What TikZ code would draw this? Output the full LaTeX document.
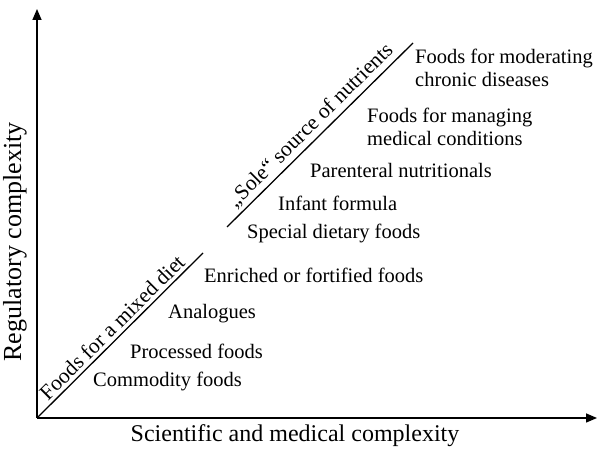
\documentclass[tikz,border=0pt]{standalone}
\usepackage{fontspec}
\setmainfont{Liberation Serif}
\usepackage{tikz}
\usetikzlibrary{arrows.meta,positioning}

\begin{document}
\begin{tikzpicture}[x=1pt,y=1pt,>={Triangle[length=11pt,width=9pt]}]
\tikzstyle{axis}=[->,line width=1.5pt]
\tikzstyle{divide}=[line width=1.3pt]
\tikzstyle{item}=[anchor=west,inner sep=0pt,align=left,font=\fontsize{20.5}{23}\selectfont]
\tikzstyle{group}=[midway,above,sloped,font=\fontsize{21.5}{24}\selectfont]
\tikzstyle{axlabel}=[font=\fontsize{24}{28}\selectfont]
\useasboundingbox (0,0) rectangle (597,452);
% axes
\coordinate (O) at (37,34);
\coordinate (ytop) at (37,443);
\coordinate (xend) at (597,34);
\draw[axis] (O)--(ytop);
\draw[axis] (O)--(xend);
\node[axlabel] (xlab) at (295,16) {Scientific and medical complexity};
\node[axlabel,rotate=90,font=\fontsize{26}{30}\selectfont] (ylab) at (15,210) {Regulatory complexity};
% the two diagonals
\coordinate (d1b) at (37,34);
\coordinate (d1e) at (203,199);
\coordinate (d2b) at (227,225);
\coordinate (d2e) at (413,409);
\draw[divide] (d1b)--(d1e) node[group] {Foods for a mixed diet};
\draw[divide] (d2b)--(d2e) node[group] {„Sole“ source of nutrients};
% food groups
\node[item] (commodity) at (93,71) {Commodity foods};
\node[item] (processed) at (130,101) {Processed foods};
\node[item] (analogues) at (168,138) {Analogues};
\node[item] (enriched) at (204,177) {Enriched or fortified foods};
\node[item] (special) at (247,219) {Special dietary foods};
\node[item] (infant) at (278,249) {Infant formula};
\node[item] (parenteral) at (310,282) {Parenteral nutritionals};
\node[item] (managing) at (367,325) {Foods for managing\\medical conditions};
\node[item] (moderating) at (415,384) {Foods for moderating\\chronic diseases};
\end{tikzpicture}
\end{document}
